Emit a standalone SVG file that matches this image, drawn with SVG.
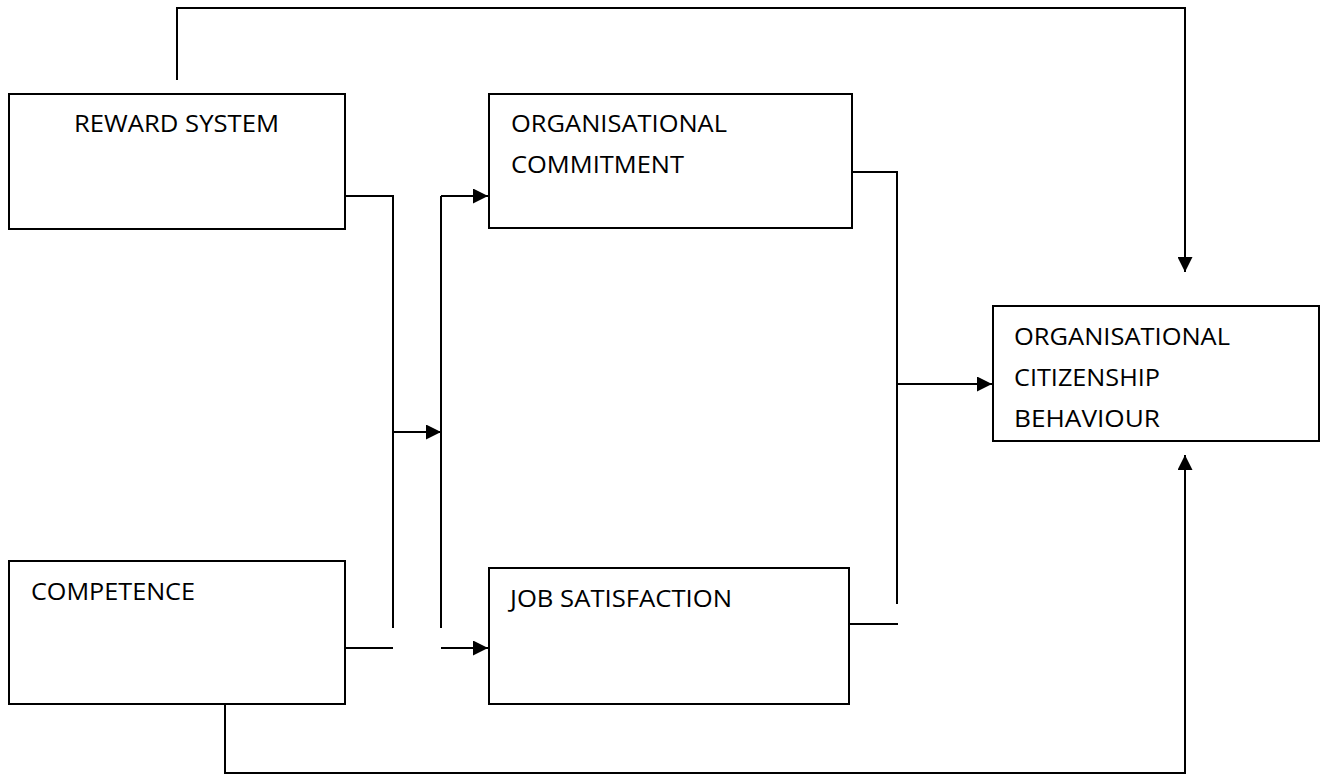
<svg xmlns="http://www.w3.org/2000/svg" width="1326" height="775" viewBox="0 0 1326 775">
  <style>
    .box { fill: #ffffff; stroke: #000000; stroke-width: 2; }
    .label { font-family: "Open Sans", "Liberation Sans", sans-serif; font-size: 24px; fill: #000000; }
    .wire { fill: none; stroke: #000000; stroke-width: 2; }
    .arrow { fill: none; stroke: #000000; stroke-width: 2; marker-end: url(#head); }
  </style>
  <defs>
    <marker id="head" viewBox="0 0 10 10" refX="10" refY="5" markerWidth="15" markerHeight="15" markerUnits="userSpaceOnUse" orient="auto">
      <path d="M0,0 L10,5 L0,10 Z" fill="#000000"/>
    </marker>
  </defs>
  <rect width="1326" height="775" fill="#ffffff"/>

  <g id="connectors">
    <!-- reward system and competence feeding the mediators -->
    <polyline class="wire" points="345,196 393,196 393,628"/>
    <line class="wire" x1="345" y1="648" x2="393" y2="648"/>
    <line class="arrow" x1="393" y1="432" x2="441" y2="432"/>
    <line class="wire" x1="441" y1="196" x2="441" y2="628"/>
    <line class="arrow" x1="441" y1="196" x2="488" y2="196"/>
    <line class="arrow" x1="441" y1="648" x2="488" y2="648"/>
    <!-- mediators to citizenship behaviour -->
    <polyline class="wire" points="850,172 897,172 897,604"/>
    <line class="wire" x1="849" y1="624" x2="898" y2="624"/>
    <line class="arrow" x1="897" y1="384" x2="992" y2="384"/>
    <!-- direct paths -->
    <polyline class="arrow" points="177,80 177,8 1185,8 1185,272"/>
    <polyline class="arrow" points="225,704 225,773 1185,773 1185,455"/>
  </g>

  <g id="reward-system">
    <rect class="box" x="9" y="94" width="336" height="135"/>
    <text class="label" x="74" y="132" textLength="205" lengthAdjust="spacingAndGlyphs">REWARD SYSTEM</text>
  </g>

  <g id="competence">
    <rect class="box" x="9" y="561" width="336" height="143"/>
    <text class="label" x="31" y="600" textLength="164" lengthAdjust="spacingAndGlyphs">COMPETENCE</text>
  </g>

  <g id="organisational-commitment">
    <rect class="box" x="489" y="94" width="363" height="134"/>
    <text class="label" x="511" y="132" textLength="216" lengthAdjust="spacingAndGlyphs">ORGANISATIONAL</text>
    <text class="label" x="511" y="173" textLength="173" lengthAdjust="spacingAndGlyphs">COMMITMENT</text>
  </g>

  <g id="job-satisfaction">
    <rect class="box" x="489" y="568" width="360" height="136"/>
    <text class="label" x="510" y="607" textLength="222" lengthAdjust="spacingAndGlyphs">JOB SATISFACTION</text>
  </g>

  <g id="organisational-citizenship-behaviour">
    <rect class="box" x="993" y="306" width="326" height="135"/>
    <text class="label" x="1014" y="345" textLength="216" lengthAdjust="spacingAndGlyphs">ORGANISATIONAL</text>
    <text class="label" x="1014" y="386" textLength="146" lengthAdjust="spacingAndGlyphs">CITIZENSHIP</text>
    <text class="label" x="1014" y="427" textLength="146" lengthAdjust="spacingAndGlyphs">BEHAVIOUR</text>
  </g>
</svg>
